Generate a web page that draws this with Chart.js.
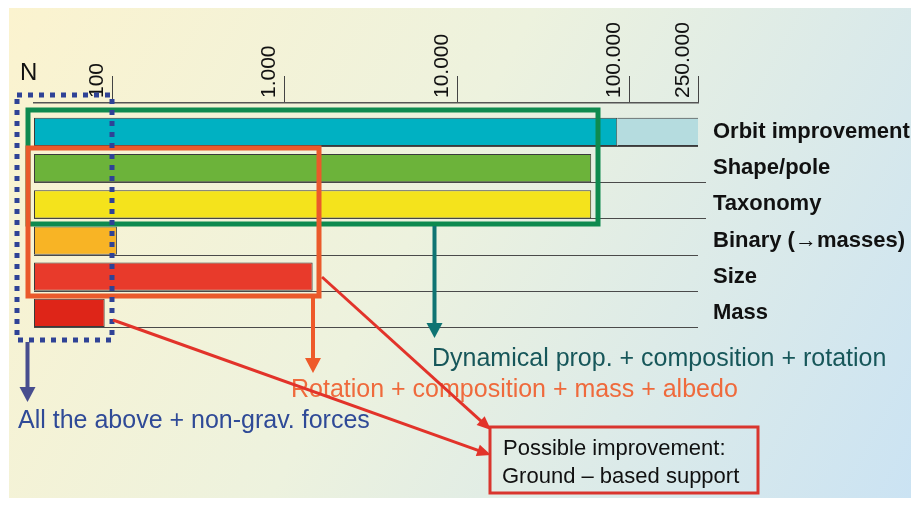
<!DOCTYPE html>
<html>
<head>
<meta charset="utf-8">
<script src="https://cdn.jsdelivr.net/npm/chart.js@4/dist/chart.umd.min.js"></script>
<style>
  html, body { margin: 0; padding: 0; background: #fff; }
  #wrap { width: 911px; height: 506px; position: relative; }
</style>
</head>
<body>
<div id="wrap"><canvas id="myChart"></canvas></div>
<script>
// Rows, top to bottom
const categories = ['Orbit improvement', 'Shape/pole', 'Taxonomy', 'Binary (\u2192masses)', 'Size', 'Mass'];
// N reached for each item
const reachN = [85000, 60000, 60000, 106, 1450, 90];
// extra range of the orbit row (pale segment)
const orbitExtra = [85000, 250000];
// top axis
const tickValues = [100, 1000, 10000, 100000, 250000];
const tickLabels = ['100', '1.000', '10.000', '100.000', '250.000'];

const barColors = ['#00B1C2', '#6CB33A', '#F4E31C', '#F8B425', '#E83A2B', '#DE2518'];
const FONT = '"Liberation Sans", "DejaVu Sans", Arial, sans-serif';

// background gradient panel
const backdrop = {
    id: 'backdrop',
    beforeDraw(chart) {
        const ctx = chart.ctx;
        ctx.save();
        ctx.fillStyle = '#ffffff';
        ctx.fillRect(0, 0, chart.width, chart.height);
        const g = ctx.createLinearGradient(9, 8, 911, 498);
        g.addColorStop(0, '#FBF3CF');
        g.addColorStop(0.45, '#EDF2DE');
        g.addColorStop(1, '#CBE3F3');
        ctx.fillStyle = g;
        ctx.fillRect(9, 8, chart.width - 9, 490);
        ctx.restore();
    }
};

// thin line under each row, out to the labels
const rowLines = {
    id: 'rowLines',
    beforeDatasetsDraw(chart) {
        const ctx = chart.ctx;
        const area = chart.chartArea;
        const bars = chart.getDatasetMeta(0).data;
        ctx.save();
        ctx.strokeStyle = '#4a4a4a';
        ctx.lineWidth = 1.2;
        bars.forEach(function (bar, i) {
            const y = Math.round(bar.y + bar.height / 2) + 0.5;
            ctx.beginPath();
            ctx.moveTo(area.left, y);
            ctx.lineTo(area.right + (i === 1 || i === 2 ? 8 : 0), y);
            ctx.stroke();
        });
        ctx.restore();
    }
};

function arrowDown(ctx, x, y0, y1, color) {
    ctx.strokeStyle = color;
    ctx.fillStyle = color;
    ctx.lineWidth = 4;
    ctx.beginPath();
    ctx.moveTo(x, y0);
    ctx.lineTo(x, y1 - 12);
    ctx.stroke();
    ctx.beginPath();
    ctx.moveTo(x - 8, y1 - 15);
    ctx.lineTo(x + 8, y1 - 15);
    ctx.lineTo(x, y1);
    ctx.closePath();
    ctx.fill();
}

function arrowTo(ctx, x0, y0, x1, y1, color) {
    const a = Math.atan2(y1 - y0, x1 - x0);
    ctx.strokeStyle = color;
    ctx.fillStyle = color;
    ctx.lineWidth = 3;
    ctx.beginPath();
    ctx.moveTo(x0, y0);
    ctx.lineTo(x1 - 10 * Math.cos(a), y1 - 10 * Math.sin(a));
    ctx.stroke();
    ctx.beginPath();
    ctx.moveTo(x1, y1);
    ctx.lineTo(x1 - 14 * Math.cos(a) + 6 * Math.sin(a), y1 - 14 * Math.sin(a) - 6 * Math.cos(a));
    ctx.lineTo(x1 - 14 * Math.cos(a) - 6 * Math.sin(a), y1 - 14 * Math.sin(a) + 6 * Math.cos(a));
    ctx.closePath();
    ctx.fill();
}

// frames, arrows and notes on top of the bars
const notes = {
    id: 'notes',
    afterDraw(chart) {
        const ctx = chart.ctx;
        ctx.save();
        ctx.lineJoin = 'miter';

        ctx.fillStyle = '#111';
        ctx.font = '24px ' + FONT;
        ctx.textBaseline = 'alphabetic';
        ctx.fillText('N', 20, 80);

        // green frame
        ctx.strokeStyle = '#0E8A4F';
        ctx.lineWidth = 5;
        ctx.strokeRect(28, 110, 570, 114);
        // orange frame
        ctx.strokeStyle = '#EA5A2B';
        ctx.strokeRect(28, 148, 291, 148);

        // texts
        ctx.font = '25px ' + FONT;
        ctx.fillStyle = '#17575A';
        ctx.fillText('Dynamical prop. + composition + rotation', 432, 366);
        ctx.fillStyle = '#EF6A3C';
        ctx.fillText('Rotation + composition + mass + albedo', 291, 397);
        ctx.fillStyle = '#2F4A97';
        ctx.fillText('All the above + non-grav. forces', 18, 428);

        arrowDown(ctx, 27.5, 342, 402, '#474D8E');
        arrowDown(ctx, 313, 298, 373, '#EE5A2A');
        arrowDown(ctx, 434.5, 226, 338, '#0F7473');

        // blue dotted frame
        ctx.strokeStyle = '#2F4296';
        ctx.lineWidth = 5;
        ctx.setLineDash([5, 6]);
        ctx.strokeRect(17, 95, 95, 245);
        ctx.setLineDash([]);

        // red box
        ctx.strokeStyle = '#D9352E';
        ctx.lineWidth = 3;
        ctx.strokeRect(490, 427, 268, 66);
        ctx.fillStyle = '#111';
        ctx.font = '22px ' + FONT;
        ctx.fillText('Possible improvement:', 503, 455);
        ctx.fillText('Ground \u2013 based support', 502, 483);

        arrowTo(ctx, 322, 277, 491, 430, '#E2332A');
        arrowTo(ctx, 113, 320, 491, 455, '#E2332A');
        ctx.restore();
    }
};

const ctx = document.getElementById('myChart').getContext('2d');
const myChart = new Chart(ctx, {
    type: 'bar',
    data: {
        datasets: [{
            label: 'N',
            data: categories.map((c, i) => ({ y: i, x: reachN[i] })),
            backgroundColor: barColors,
            borderColor: '#3a3a3a',
            borderWidth: 1,
            borderSkipped: false
        }, {
            label: 'extension',
            data: [{ y: 0, x: orbitExtra }],
            backgroundColor: '#B5DCDF',
            borderColor: '#3a3a3a',
            borderWidth: { top: 1, bottom: 1, left: 0, right: 0 },
            borderSkipped: false
        }]
    },
    options: {
        indexAxis: 'y',
        responsive: true,
        maintainAspectRatio: false,
        animation: false,
        grouped: false,
        barPercentage: 0.78,
        categoryPercentage: 1,
        layout: { padding: { left: 34, right: 0, top: 0, bottom: 175 } },
        plugins: {
            legend: { display: false },
            tooltip: { enabled: false }
        },
        scales: {
            x: {
                type: 'logarithmic',
                position: 'top',
                min: 35,
                max: 250000,
                afterBuildTicks: function (scale) {
                    scale.ticks = tickValues.map(v => ({ value: v }));
                },
                afterFit: function (scale) {
                    scale.height = 103;
                    scale.paddingLeft = 0;
                    scale.paddingRight = 0;
                },
                ticks: {
                    autoSkip: false,
                    minRotation: 90,
                    maxRotation: 90,
                    labelOffset: 10,
                    padding: -22,
                    color: '#111',
                    font: { family: FONT, size: 21 },
                    callback: function (value) { return tickLabels[tickValues.indexOf(value)]; }
                },
                grid: { drawOnChartArea: false, drawTicks: true, tickLength: 27, color: '#444', lineWidth: 1 },
                border: { display: true, color: '#555', width: 1.5 }
            },
            y: {
                type: 'linear',
                position: 'right',
                reverse: true,
                offset: false,
                min: -0.8,
                max: 5.5,
                afterBuildTicks: function (scale) {
                    scale.ticks = categories.map((c, i) => ({ value: i }));
                },
                afterFit: function (scale) {
                    scale.width = 213;
                    scale.paddingTop = 0;
                    scale.paddingBottom = 0;
                },
                ticks: {
                    autoSkip: false,
                    crossAlign: 'near',
                    padding: 7,
                    color: '#111',
                    font: { family: FONT, size: 22, weight: 'bold' },
                    callback: function (value) { return categories[value]; }
                },
                grid: { display: false, offset: false },
                border: { display: false }
            }
        }
    },
    plugins: [backdrop, rowLines, notes]
});
</script>
</body>
</html>
